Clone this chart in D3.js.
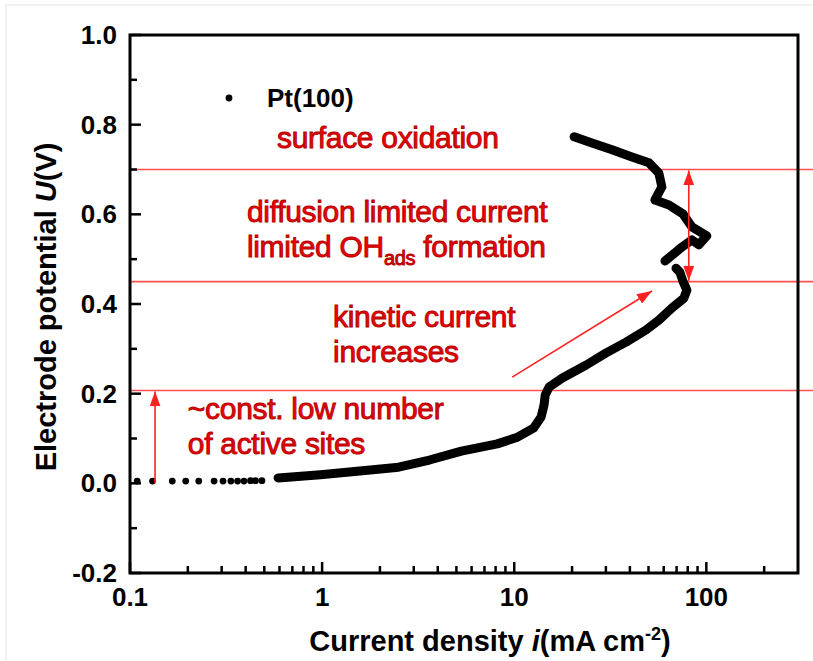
<!DOCTYPE html>
<html>
<head>
<meta charset="utf-8">
<script src="https://cdn.jsdelivr.net/npm/d3@7"></script>
<style>
  html, body { margin: 0; padding: 0; background: #fff; }
  svg { display: block; }
</style>
</head>
<body>
<svg id="chart" width="813" height="661"></svg>
<script>
// ---- data ----
const seriesName = "Pt(100)";
// sparse low-current points (mA cm^-2, V)
const lowI = [0.109, 0.131, 0.166, 0.195, 0.228, 0.274, 0.305, 0.335, 0.363, 0.392, 0.424, 0.450, 0.486];
const lowU = [0.005, 0.005, 0.005, 0.005, 0.005, 0.005, 0.005, 0.005, 0.005, 0.005, 0.006, 0.006, 0.006];
// dense branch: kinetic region up to ~0.48 V
const kinI = [0.59, 0.98, 1.62, 2.50, 3.62, 5.31, 8.16, 10.4, 12.6, 13.8, 14.3, 14.5, 15.2, 17.8, 23.7, 30.1, 38.2, 48.5, 56.6, 66.2, 76.4, 79.2, 75.5, 72.8, 69.5];
const kinU = [0.012, 0.019, 0.028, 0.036, 0.052, 0.072, 0.088, 0.103, 0.123, 0.148, 0.175, 0.197, 0.215, 0.235, 0.264, 0.291, 0.315, 0.342, 0.364, 0.391, 0.413, 0.431, 0.451, 0.471, 0.480];
// dense branch: diffusion / oxidation region
const oxI = [60.9, 69.5, 74.6, 84.1, 91.4, 100.6, 84.1, 75.5, 63.9, 54.0, 58.7, 56.6, 50.3, 41.0, 32.3, 25.4, 20.5];
const oxU = [0.496, 0.516, 0.527, 0.543, 0.532, 0.552, 0.572, 0.601, 0.621, 0.632, 0.661, 0.692, 0.715, 0.728, 0.744, 0.759, 0.773];

// axis ticks
const xMajor = [0.1, 1, 10, 100];
const xMajorLabels = ["0.1", "1", "10", "100"];
const yMajor = [-0.2, 0.0, 0.2, 0.4, 0.6, 0.8, 1.0];
const yMajorLabels = ["-0.2", "0.0", "0.2", "0.4", "0.6", "0.8", "1.0"];
const yMinor = [-0.1, 0.1, 0.3, 0.5, 0.7, 0.9];

// region boundaries (V) and annotations (anchor = left end of first baseline)
const regionLines = [0.70, 0.45, 0.207];
const regionTexts = [
  { lines: ["surface oxidation"], i: 0.582, u: 0.748 },
  { lines: ["diffusion limited current", "limited OH|ads| formation"], i: 0.406, u: 0.583 },
  { lines: ["kinetic current", "increases"], i: 1.14, u: 0.349 },
  { lines: ["~const. low number", "of active sites"], i: 0.200, u: 0.1435 }
];
const arrows = [
  { i1: 0.135, u1: 0.0, i2: 0.135, u2: 0.205, heads: ["end"] },
  { i1: 81, u1: 0.698, i2: 81, u2: 0.452, heads: ["start", "end"] },
  { i1: 9.76, u1: 0.237, i2: 52.1, u2: 0.429, heads: ["end"] }
];

// ---- layout ----
const svg = d3.select("#chart");
const W = 813, H = 661;
const pL = 130, pR = 798, pT = 35, pB = 573;

const x = d3.scaleLog().domain([0.1, 300]).range([pL, pR]);
const y = d3.scaleLinear().domain([-0.2, 1.0]).range([pB, pT]);

// faint image border
svg.append("rect").attr("x", 6).attr("y", 5).attr("width", 900).attr("height", 800)
  .attr("fill", "none").attr("stroke", "#e6e6e6").attr("stroke-width", 1);

const red = "#ff2020";
const textRed = "#f00000";

// region lines (extend past plot to the right edge)
svg.selectAll("line.region").data(regionLines).join("line")
  .attr("class", "region")
  .attr("x1", pL).attr("x2", W)
  .attr("y1", d => y(d)).attr("y2", d => y(d))
  .attr("stroke", "#ff5050").attr("stroke-width", 1.6);

// data: dense branches
const line = d3.line().x(d => x(d[0])).y(d => y(d[1]));
const kinPts = kinI.map((v, k) => [v, kinU[k]]);
const oxPts = oxI.map((v, k) => [v, oxU[k]]);
[kinPts, oxPts].forEach(pts => {
  svg.append("path").datum(pts).attr("d", line)
    .attr("fill", "none").attr("stroke", "#000").attr("stroke-width", 9)
    .attr("stroke-linejoin", "round").attr("stroke-linecap", "round");
});
// sparse dots
svg.selectAll("circle.low").data(lowI.map((v, k) => [v, lowU[k]])).join("circle")
  .attr("class", "low")
  .attr("cx", d => x(d[0])).attr("cy", d => y(d[1])).attr("r", 3.4).attr("fill", "#000");

// arrows
const defs = svg.append("defs");
defs.append("marker").attr("id", "ah").attr("viewBox", "0 0 15 11")
  .attr("refX", 15).attr("refY", 5.5).attr("markerWidth", 15).attr("markerHeight", 11)
  .attr("markerUnits", "userSpaceOnUse").attr("orient", "auto-start-reverse")
  .append("path").attr("d", "M0,0 L15,5.5 L0,11 Z").attr("fill", red);
arrows.forEach(a => {
  const l = svg.append("line")
    .attr("x1", x(a.i1)).attr("y1", y(a.u1)).attr("x2", x(a.i2)).attr("y2", y(a.u2))
    .attr("stroke", red).attr("stroke-width", 1.6);
  if (a.heads.includes("end")) l.attr("marker-end", "url(#ah)");
  if (a.heads.includes("start")) l.attr("marker-start", "url(#ah)");
});

// annotation texts
regionTexts.forEach(t => {
  t.lines.forEach((s, k) => {
    const tx = svg.append("text")
      .attr("x", x(t.i)).attr("y", y(t.u) + k * 35)
      .attr("font-family", "Liberation Sans, Arial, sans-serif")
      .attr("font-size", 30)
      .attr("fill", textRed).attr("stroke", "#b00000").attr("stroke-width", 0.9)
      .attr("letter-spacing", -0.3);
    const parts = s.split("|");
    parts.forEach((p, j) => {
      const ts = tx.append("tspan").text(p);
      if (j === 1) ts.attr("font-size", 20).attr("dy", 8);
      if (j === 2) ts.attr("dy", -8);
    });
  });
});

// frame
svg.append("rect").attr("x", pL).attr("y", pT)
  .attr("width", pR - pL).attr("height", pB - pT)
  .attr("fill", "none").attr("stroke", "#000").attr("stroke-width", 3);

// x ticks (inward)
const xMinor = [];
[0.1, 1, 10, 100].forEach(dec => { for (let m = 2; m <= 9; m++) if (dec * m < 300) xMinor.push(dec * m); });
svg.selectAll("line.xmaj").data(xMajor).join("line")
  .attr("x1", d => x(d)).attr("x2", d => x(d)).attr("y1", pB).attr("y2", pB - 11)
  .attr("stroke", "#000").attr("stroke-width", 2.5);
svg.selectAll("line.xmin").data(xMinor).join("line")
  .attr("x1", d => x(d)).attr("x2", d => x(d)).attr("y1", pB).attr("y2", pB - 7)
  .attr("stroke", "#000").attr("stroke-width", 2.5);
svg.selectAll("text.xl").data(xMajor).join("text")
  .attr("x", d => x(d)).attr("y", 606).attr("text-anchor", "middle")
  .attr("font-family", "Liberation Sans, Arial, sans-serif").attr("font-weight", "bold")
  .attr("font-size", 26).text((d, k) => xMajorLabels[k]);

// y ticks (inward)
svg.selectAll("line.ymaj").data(yMajor).join("line")
  .attr("x1", pL).attr("x2", pL + 11).attr("y1", d => y(d)).attr("y2", d => y(d))
  .attr("stroke", "#000").attr("stroke-width", 2.5);
svg.selectAll("line.ymin").data(yMinor).join("line")
  .attr("x1", pL).attr("x2", pL + 7).attr("y1", d => y(d)).attr("y2", d => y(d))
  .attr("stroke", "#000").attr("stroke-width", 2.5);
svg.selectAll("text.yl").data(yMajor).join("text")
  .attr("x", 117).attr("y", d => y(d) + 9).attr("text-anchor", "end")
  .attr("font-family", "Liberation Sans, Arial, sans-serif").attr("font-weight", "bold")
  .attr("font-size", 26).text((d, k) => yMajorLabels[k]);

// axis titles
const xt = svg.append("text").attr("x", 490).attr("y", 651).attr("text-anchor", "middle")
  .attr("font-family", "Liberation Sans, Arial, sans-serif").attr("font-weight", "bold")
  .attr("font-size", 29);
xt.append("tspan").text("Current density ");
xt.append("tspan").attr("font-style", "italic").text("i");
xt.append("tspan").text("(mA cm");
xt.append("tspan").attr("font-size", 18).attr("dy", -11).text("-2");
xt.append("tspan").attr("dy", 11).text(")");

const yt = svg.append("text").attr("transform", "translate(56,307) rotate(-90)")
  .attr("text-anchor", "middle")
  .attr("font-family", "Liberation Sans, Arial, sans-serif").attr("font-weight", "bold")
  .attr("font-size", 29);
yt.append("tspan").text("Electrode potential ");
yt.append("tspan").attr("font-style", "italic").text("U");
yt.append("tspan").text("(V)");

// legend
svg.append("circle").attr("cx", 229).attr("cy", 98).attr("r", 3.4).attr("fill", "#000");
svg.append("text").attr("x", 267).attr("y", 107)
  .attr("font-family", "Liberation Sans, Arial, sans-serif").attr("font-weight", "bold")
  .attr("font-size", 26).text(seriesName);
</script>
</body>
</html>
